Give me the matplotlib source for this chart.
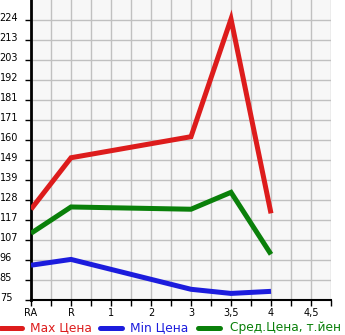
import matplotlib
matplotlib.use("Agg")
import matplotlib.pyplot as plt
import matplotlib.transforms as mtransforms
from matplotlib.lines import Line2D

categories = ["RA", "R", "1", "2", "3", "3,5", "4", "4,5"]
present = ["RA", "R", "3", "3,5", "4"]
max_price = [123.3, 150.7, 161.9, 224.5, 121.1]
min_price = [93.5, 96.6, 80.7, 78.5, 79.6]
avg_price = [110.5, 124.5, 123.3, 132.3, 99.3]
ytick_labels = ["75", "85", "96", "107", "117", "128", "139", "149", "160",
                "171", "181", "192", "203", "213", "224"]

c_red = "#dd1c1c"
c_blue = "#1c1cdd"
c_green = "#0a800a"

W, H = 345, 335
fig = plt.figure(figsize=(W / 100, H / 100), dpi=100)
ax = fig.add_axes([31 / W, 35 / H, 300 / W, 300 / H])
ax.set_facecolor("#f7f7f7")

xpos = [categories.index(c) for c in present]
ymin, ytop = 75.0, 224.0
step = (ytop - ymin) / 14
for vals, col in [(max_price, c_red), (min_price, c_blue), (avg_price, c_green)]:
    ax.plot(xpos, vals, color=col, lw=3.6, solid_capstyle="butt",
            solid_joinstyle="miter", zorder=3)

ax.set_xlim(0, 7.5)
ax.set_ylim(ymin, ymin + step * 14 * 300 / 280)

yt = [ymin + step * k for k in range(15)]
ax.set_yticks(yt)
ax.set_yticklabels(ytick_labels, fontsize=7)
ax.set_xticks(range(len(categories)))
ax.set_xticklabels(categories, fontsize=7)
ax.set_xticks([i + 0.5 for i in range(len(categories))], minor=True)

ax.grid(True, which="both", color="#c0c0c0", lw=1)
ax.tick_params(axis="y", length=4, width=1, pad=18.5, colors="black")
ax.tick_params(axis="x", which="both", length=4, width=1, pad=2, colors="black")
up = mtransforms.ScaledTranslation(0, 3 / 100, fig.dpi_scale_trans)
for lab in ax.get_yticklabels():
    lab.set_horizontalalignment("left")
    lab.set_transform(lab.get_transform() + up)
ax.set_axisbelow(True)
for s in ["top", "right"]:
    ax.spines[s].set_visible(False)
ax.spines["left"].set_linewidth(2)
ax.spines["bottom"].set_linewidth(1.5)

# legend
ly = 1 - 328 / H
items = [(c_red, "Max Цена", 0, 30), (c_blue, "Min Цена", 100, 130),
         (c_green, "Сред.Цена, т.йен", 198, 230)]
for col, lab, x0, tx in items:
    fig.add_artist(Line2D([x0 / W, (x0 + 22) / W], [ly, ly], color=col, lw=3.6,
                          solid_capstyle="round", transform=fig.transFigure))
    fig.text(tx / W, ly, lab, color=col, fontsize=8.8, va="center", ha="left")

fig.savefig("out.png", dpi=100)
